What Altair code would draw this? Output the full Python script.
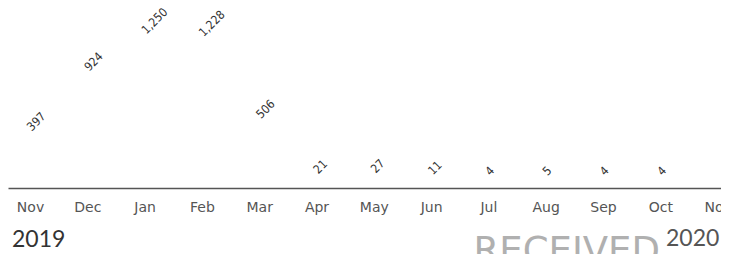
import altair as alt
import pandas as pd

months = ["Nov", "Dec", "Jan", "Feb", "Mar", "Apr", "May", "Jun", "Jul", "Aug", "Sep", "Oct", "Nov"]
values = [397, 924, 1250, 1228, 506, 21, 27, 11, 4, 5, 4, 4]
value_labels = ["397", "924", "1,250", "1,228", "506", "21", "27", "11", "4", "5", "4", "4"]

df = pd.DataFrame({
    "idx": list(range(len(values))),
    "month": months[:len(values)],
    "value": values,
    "label": value_labels,
})

label_expr = "[" + ",".join(f"'{m}'" for m in months) + "][datum.value]"

x_enc = alt.X("idx:Q",
              scale=alt.Scale(domain=[-0.384, 12.059], nice=False, zero=False),
              axis=alt.Axis(values=list(range(len(months))), labelExpr=label_expr,
                            title=None, grid=False, ticks=False,
                            domainColor="#555555", domainWidth=1.5,
                            labelFont="DejaVu Sans", labelFontSize=14, labelColor="#555555",
                            labelPadding=12, labelFlush=False, labelOverlap=False))

labels = alt.Chart(df).mark_text(
    angle=315, align="left", baseline="middle", dx=9.2, dy=-10.6,
    font="DejaVu Sans Condensed, Roboto", fontSize=12, color="#333333"
).encode(
    x=x_enc,
    y=alt.Y("value:Q", scale=alt.Scale(domain=[0, 1583], nice=False),
            axis=None),
    text="label:N",
)

year_left = alt.Chart(pd.DataFrame({"t": ["2019"]})).mark_text(
    align="left", baseline="middle", font="Lato", fontSize=23, color="#333333"
).encode(x=alt.value(4), y=alt.value(232), text="t:N")

stamp = alt.Chart(pd.DataFrame({"t": ["RECEIVED"]})).mark_text(
    align="right", baseline="alphabetic", font="DejaVu Sans", fontSize=37,
    color="#b0b0b0"
).encode(x=alt.value(652), y=alt.value(255), text="t:N")

year_right = alt.Chart(pd.DataFrame({"t": ["2020"]})).mark_text(
    align="left", baseline="middle", font="Lato", fontSize=23, color="#555555"
).encode(x=alt.value(658), y=alt.value(231), text="t:N")

chart = alt.layer(stamp, labels, year_left, year_right).properties(
    width=713, height=180,
    autosize=alt.AutoSizeParams(type="none"),
    padding={"left": 0, "top": 0, "right": 0, "bottom": 66},
).configure_view(stroke=None)

chart.save("out.html", embed_options={"renderer": "svg", "actions": False})
